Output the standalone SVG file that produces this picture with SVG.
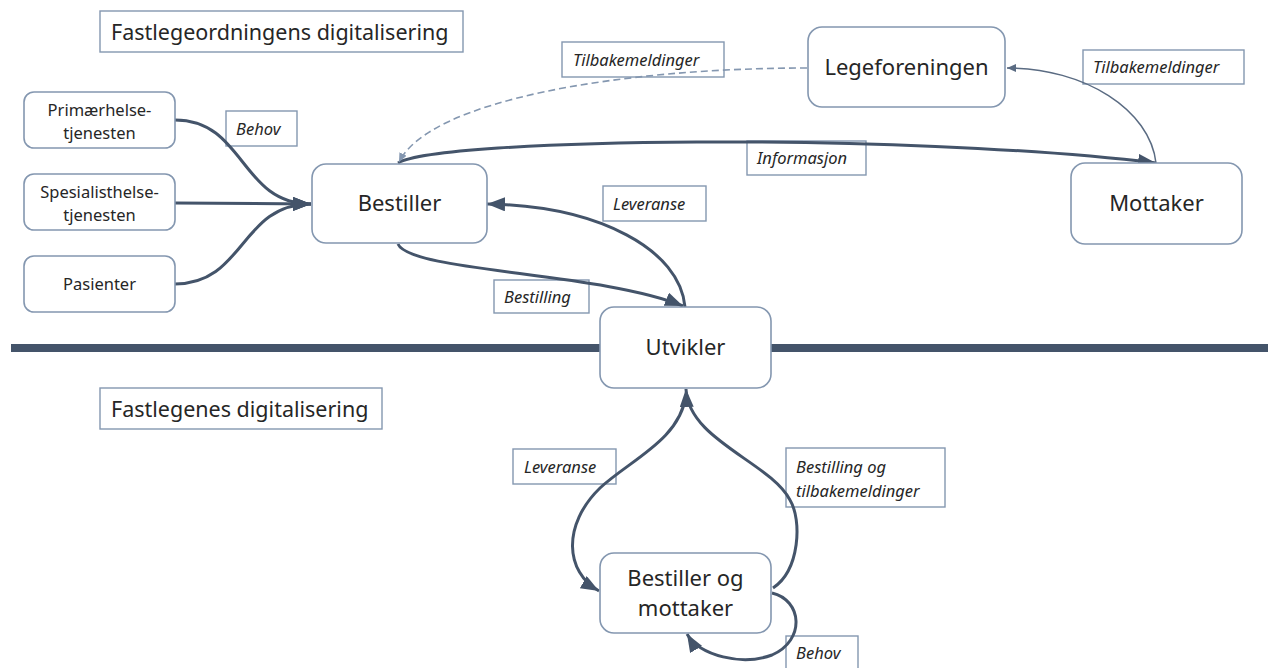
<svg xmlns="http://www.w3.org/2000/svg" width="1268" height="668" viewBox="0 0 1268 668">
<style>
.node rect{fill:#fff;stroke:#8497b0;stroke-width:1.6}
.node text{font-family:"Noto Sans","Open Sans",sans-serif;fill:#262626;text-anchor:middle}
.lbl rect{fill:#fff;stroke:#8497b0;stroke-width:1.4}
.lbl text{font-family:"Noto Sans","Open Sans",sans-serif;font-style:italic;font-size:16.5px;fill:#262626}
.title rect{fill:#fff;stroke:#8497b0;stroke-width:1.4}
.title text{font-family:"Noto Sans","Open Sans",sans-serif;font-size:21.5px;fill:#262626}
.c{fill:none;stroke:#44546a;stroke-width:3}
.thin{fill:none;stroke:#5a6b82;stroke-width:1.5}
.dash{fill:none;stroke:#8497b0;stroke-width:1.6;stroke-dasharray:7 4}
</style>
<defs>
<marker id="big" markerUnits="userSpaceOnUse" markerWidth="20" markerHeight="16" refX="18" refY="7" orient="auto"><path d="M0,0 L18,7 L0,14 z" fill="#44546a"/></marker>
<marker id="small" markerUnits="userSpaceOnUse" markerWidth="12" markerHeight="10" refX="9" refY="4" orient="auto"><path d="M0,0 L9,4 L0,8 z" fill="#5a6b82"/></marker>
<marker id="smalld" markerUnits="userSpaceOnUse" markerWidth="12" markerHeight="10" refX="9" refY="4" orient="auto"><path d="M0,0 L9,4 L0,8 z" fill="#8497b0"/></marker>
</defs>

<rect x="11" y="344" width="1257" height="8" fill="#44546a"/>

<g id="title1" class="title"><rect x="100" y="11" width="363" height="41"/><text x="111" y="39.5">Fastlegeordningens digitalisering</text></g>
<g id="title2" class="title"><rect x="100" y="388" width="282" height="41"/><text x="111" y="416.5">Fastlegenes digitalisering</text></g>

<g id="labels">
<g class="lbl"><rect x="226" y="111" width="71" height="35"/><text x="236" y="134.5">Behov</text></g>
<g class="lbl"><rect x="562" y="42" width="162" height="35"/><text x="573" y="65.5">Tilbakemeldinger</text></g>
<g class="lbl"><rect x="1083" y="50" width="161" height="34"/><text x="1093" y="73">Tilbakemeldinger</text></g>
<g class="lbl"><rect x="747" y="141" width="119" height="34"/><text x="757" y="164">Informasjon</text></g>
<g class="lbl"><rect x="603" y="186" width="103" height="35"/><text x="613" y="209.5">Leveranse</text></g>
<g class="lbl"><rect x="494" y="280" width="95" height="33"/><text x="504" y="302.5">Bestilling</text></g>
<g class="lbl"><rect x="513" y="449" width="103" height="35"/><text x="524" y="472.5">Leveranse</text></g>
<g class="lbl"><rect x="786" y="448" width="159" height="59"/><text x="796" y="472.5">Bestilling og</text><text x="796" y="497">tilbakemeldinger</text></g>
<g class="lbl"><rect x="786" y="636" width="72" height="34"/><text x="796" y="659">Behov</text></g>
</g>

<g id="connectors">
<path class="c" d="M175,120 C245,120 240,204 311,204" marker-end="url(#big)"/>
<path class="c" d="M175,203 L311,204" marker-end="url(#big)"/>
<path class="c" d="M175,284 C245,284 240,204 311,204" marker-end="url(#big)"/>
<path class="c" d="M398,163 C440,138 900,132 1156,163" marker-end="url(#big)"/>
<path class="dash" d="M807,68 C620,68 430,100 399,162" marker-end="url(#smalld)"/>
<path class="thin" d="M1156,163 C1150,110 1085,68 1007,68" marker-end="url(#small)"/>
<path class="c" d="M685,307 C680,250 600,206 487,204" marker-end="url(#big)"/>
<path class="c" d="M398,244 C410,272 600,272 683,306" marker-end="url(#big)"/>
<path class="c" d="M773,588 C800,570 802,520 790,500 C770,462 688,440 686,389" marker-end="url(#big)"/>
<path class="c" d="M686,395 C680,440 630,460 600,488 C562,525 565,572 599,591" marker-end="url(#big)"/>
<path class="c" d="M772,593 C802,600 806,640 772,655 C742,666 700,656 687,634" marker-end="url(#big)"/>
</g>

<g id="primaer" class="node"><rect x="24" y="92" width="151" height="56" rx="10"/><text x="99.5" y="116" font-size="16.5">Primærhelse-</text><text x="99.5" y="139" font-size="16.5">tjenesten</text></g>
<g id="spesialist" class="node"><rect x="24" y="174" width="151" height="56" rx="10"/><text x="99.5" y="198" font-size="16.5">Spesialisthelse-</text><text x="99.5" y="221" font-size="16.5">tjenesten</text></g>
<g id="pasienter" class="node"><rect x="24" y="256" width="151" height="56" rx="10"/><text x="99.5" y="290" font-size="16.5">Pasienter</text></g>
<g id="bestiller" class="node"><rect x="312" y="164" width="175" height="79" rx="14"/><text x="399.5" y="211" font-size="22">Bestiller</text></g>
<g id="legeforeningen" class="node"><rect x="808" y="27" width="197" height="80" rx="14"/><text x="906.5" y="75" font-size="22">Legeforeningen</text></g>
<g id="mottaker" class="node"><rect x="1071" y="163" width="171" height="81" rx="14"/><text x="1156.5" y="211" font-size="22">Mottaker</text></g>
<g id="utvikler" class="node"><rect x="600" y="307" width="171" height="81" rx="14"/><text x="685.5" y="355" font-size="22">Utvikler</text></g>
<g id="bom" class="node"><rect x="600" y="553" width="171" height="80" rx="14"/><text x="685.5" y="586" font-size="22">Bestiller og</text><text x="685.5" y="616" font-size="22">mottaker</text></g>
</svg>
